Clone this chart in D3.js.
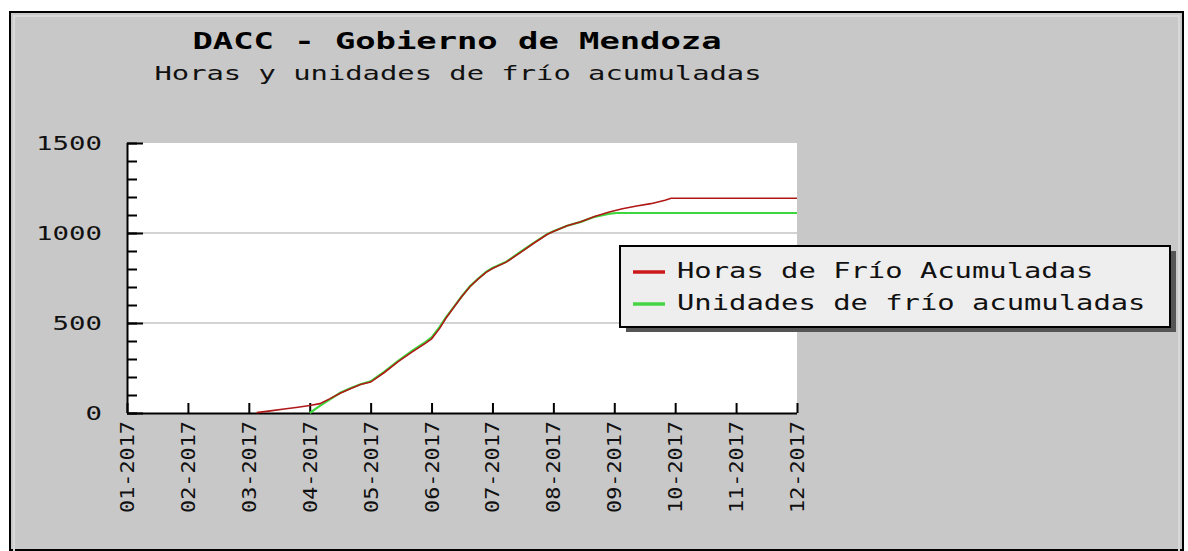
<!DOCTYPE html>
<html><head><meta charset="utf-8">
<script src="https://cdn.jsdelivr.net/npm/d3@7"></script>
<style>html,body{margin:0;padding:0;background:#fff;}svg{display:block;}</style>
</head><body>
<svg id="chart" width="1188" height="551"></svg>
<script>
const titleText = "DACC - Gobierno de Mendoza";
const subtitleText = "Horas y unidades de frío acumuladas";
const monthLabels = ["01-2017","02-2017","03-2017","04-2017","05-2017","06-2017","07-2017","08-2017","09-2017","10-2017","11-2017","12-2017"];
const yTicks = [0, 500, 1000, 1500];
const seriesNames = ["Horas de Frío Acumuladas", "Unidades de frío acumuladas"];

const horasDates = ["2017-03-05","2017-03-12","2017-03-19","2017-03-26","2017-04-01","2017-04-06","2017-04-11","2017-04-16","2017-04-21","2017-04-26","2017-05-01","2017-05-08","2017-05-15","2017-05-22","2017-05-29","2017-06-01","2017-06-05","2017-06-08","2017-06-12","2017-06-16","2017-06-20","2017-06-24","2017-06-28","2017-07-01","2017-07-08","2017-07-15","2017-07-22","2017-07-29","2017-08-01","2017-08-08","2017-08-15","2017-08-22","2017-08-29","2017-09-05","2017-09-12","2017-09-19","2017-09-26","2017-09-29","2017-12-01"];
const horasValues = [2,12,22,32,42,52,80,110,135,158,172,225,285,338,388,412,470,525,588,648,703,745,783,803,838,890,943,993,1008,1040,1063,1092,1115,1135,1150,1163,1182,1193,1193];

const unidadesDates = ["2017-04-01","2017-04-06","2017-04-11","2017-04-16","2017-04-21","2017-04-26","2017-05-01","2017-05-08","2017-05-15","2017-05-22","2017-05-29","2017-06-01","2017-06-05","2017-06-08","2017-06-12","2017-06-16","2017-06-20","2017-06-24","2017-06-28","2017-07-01","2017-07-08","2017-07-15","2017-07-22","2017-07-29","2017-08-01","2017-08-08","2017-08-15","2017-08-22","2017-08-29","2017-09-02","2017-12-01"];
const unidadesValues = [0,40,76,112,137,160,176,230,290,345,395,420,478,530,590,650,705,747,785,805,840,893,945,995,1010,1040,1062,1090,1106,1111,1111];

const svg = d3.select("#chart");
const W = 1188, H = 551;

// month fraction: 0 = Jan 1
function monthPos(s){
  const d = d3.timeParse("%Y-%m-%d")(s);
  const m = d.getMonth();
  const dim = new Date(d.getFullYear(), m+1, 0).getDate();
  return m + (d.getDate()-1)/dim;
}

const plot = {x0:127, x1:797, y0:143, y1:413};
const x = d3.scaleLinear().domain([0, 11]).range([plot.x0, plot.x1]);
const y = d3.scaleLinear().domain([0, 1500]).range([plot.y1, plot.y0]);

// frame
svg.append("rect").attr("x",10).attr("y",12).attr("width",1173).attr("height",538)
  .attr("fill","#c8c8c8").attr("stroke","#000").attr("stroke-width",2);
svg.append("rect").attr("x",14).attr("y",16).attr("width",1165).attr("height",540)
  .attr("fill","none").attr("stroke","#d8d8d8").attr("stroke-width",2);

const mono = "'DejaVu Sans Mono', 'Liberation Mono', monospace";

// titles
svg.append("text").attr("x",457).attr("y",49).attr("text-anchor","middle")
  .attr("font-family",mono).attr("font-weight","bold").attr("font-size",23)
  .attr("textLength",529).attr("lengthAdjust","spacingAndGlyphs")
  .attr("fill","#000").text(titleText);
svg.append("text").attr("x",458).attr("y",80).attr("text-anchor","middle")
  .attr("font-family",mono).attr("font-size",20)
  .attr("textLength",607).attr("lengthAdjust","spacingAndGlyphs")
  .attr("fill","#111").text(subtitleText);

// plot background
svg.append("rect").attr("x",plot.x0).attr("y",plot.y0)
  .attr("width",plot.x1-plot.x0).attr("height",plot.y1-plot.y0).attr("fill","#fff");

// grid
svg.append("g").selectAll("line").data(yTicks.filter(v=>v>0 && v<1500)).join("line")
  .attr("x1",plot.x0).attr("x2",plot.x1).attr("y1",d=>y(d)).attr("y2",d=>y(d))
  .attr("stroke","#c4c4c4").attr("stroke-width",1.5);

// y axis
const yAxisMajor = d3.axisRight(y).tickValues(yTicks).tickSize(16).tickFormat("");
const gy = svg.append("g").attr("transform",`translate(${plot.x0},0)`).call(yAxisMajor);
const yAxisMinor = d3.axisRight(y).tickValues(d3.range(0,1501,100)).tickSize(10).tickFormat("");
const gy2 = svg.append("g").attr("transform",`translate(${plot.x0},0)`).call(yAxisMinor);
[gy, gy2].forEach(g=>{
  g.selectAll("path").attr("stroke","#000").attr("stroke-width",2);
  g.selectAll(".tick line").attr("stroke","#000").attr("stroke-width",2);
});
gy.select(".domain").attr("d",`M0.5,${plot.y0}V${plot.y1}`);
gy2.select(".domain").remove();
svg.append("g").selectAll("text").data(yTicks).join("text")
  .attr("x",102).attr("y",d=>y(d)+7).attr("text-anchor","end")
  .attr("font-family",mono).attr("font-size",19)
  .attr("textLength",d=>String(d).length*16.5).attr("lengthAdjust","spacingAndGlyphs")
  .attr("fill","#111").text(d=>d);

// x axis
const xAxis = d3.axisTop(x).tickValues(d3.range(0,12)).tickSize(10).tickFormat("");
const gx = svg.append("g").attr("transform",`translate(0,${plot.y1})`).call(xAxis);
gx.selectAll("path").attr("stroke","#000").attr("stroke-width",2);
gx.select(".domain").attr("d",`M${plot.x0},0.5H${plot.x1}`);
gx.selectAll(".tick line").attr("stroke","#000").attr("stroke-width",2);
svg.append("g").selectAll("text").data(monthLabels).join("text")
  .attr("transform",(d,i)=>`translate(${x(i)+7},421) rotate(-90)`)
  .attr("text-anchor","end")
  .attr("font-family",mono).attr("font-size",19)
  .attr("textLength",92).attr("lengthAdjust","spacingAndGlyphs")
  .attr("fill","#111").text(d=>d);

// lines
const line = d3.line().x(d=>x(d[0])).y(d=>y(d[1]));
const horas = horasDates.map((s,i)=>[monthPos(s), horasValues[i]]);
const unidades = unidadesDates.map((s,i)=>[monthPos(s), unidadesValues[i]]);
svg.append("path").datum(unidades).attr("d",line).attr("fill","none")
  .attr("stroke","#3ed63e").attr("stroke-width",2.2);
svg.append("path").datum(horas).attr("d",line).attr("fill","none")
  .attr("stroke","#b01818").attr("stroke-width",1.6);

// legend
const lg = svg.append("g");
lg.append("rect").attr("x",626).attr("y",251).attr("width",550).attr("height",81).attr("fill","#555");
lg.append("rect").attr("x",620).attr("y",246).attr("width",550).attr("height",81)
  .attr("fill","#eeeeee").attr("stroke","#000").attr("stroke-width",2);
const legColors = ["#cc1a1a","#44d444"];
seriesNames.forEach((n,i)=>{
  const yy = 272 + i*32;
  lg.append("line").attr("x1",633).attr("x2",665).attr("y1",yy).attr("y2",yy)
    .attr("stroke",legColors[i]).attr("stroke-width",3.5);
  lg.append("text").attr("x",677).attr("y",yy+6)
    .attr("font-family",mono).attr("font-size",21)
    .attr("textLength",n.length*17.35).attr("lengthAdjust","spacingAndGlyphs")
    .attr("fill","#111").text(n);
});
</script>
</body></html>
